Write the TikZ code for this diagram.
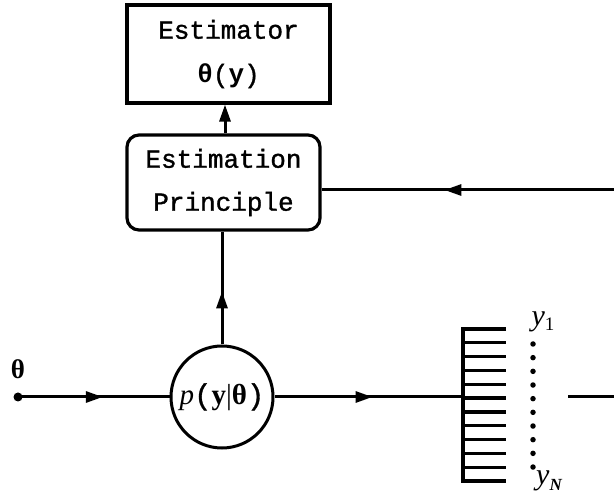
\documentclass[tikz,border=0pt]{standalone}
\usepackage{fontspec}
\setmainfont{Liberation Serif}
\setmonofont{Liberation Mono}[UprightFeatures={FakeBold=1.2}]
\usetikzlibrary{arrows.meta,decorations.markings}

\begin{document}
\begin{tikzpicture}[x=1pt,y=-1pt,
  wire/.style={line width=3pt},
  tip/.style={-{Triangle[length=17pt,width=11pt]}},
  midarrow/.style={postaction={decorate},decoration={markings,
     mark=at position #1 with {\arrow{Triangle[length=17pt,width=11pt]}}}},
  block/.style={draw,line width=3.2pt,align=center,inner sep=0pt,
     font=\fontsize{26}{31}\ttfamily},
  dotpt/.style={circle,fill,inner sep=0pt,minimum size=5.5pt},
  sublab/.style={font=\fontsize{30}{34}\selectfont\itshape}
]
\useasboundingbox (0,0) rectangle (614,497);

% processing blocks
\node[block,minimum width=203pt,minimum height=98pt] (est) at (228.5,54)
  {Estimator\\[13pt]{\bfseries θ}(\textbf{y})};
\node[block,rounded corners=12pt,minimum width=193pt,minimum height=95pt] (princ) at (223.5,182.5)
  {Estimation\\[12pt]Principle};
\node[draw,circle,line width=3pt,minimum size=102pt,inner sep=0pt,
      font=\fontsize{29}{32}\selectfont] (model) at (222,397)
  {\textit{p}\texttt{(}\textbf{y}|\textbf{θ}\texttt{)}};

% parameter input
\coordinate (src) at (18,397);
\node[dotpt,minimum size=9pt] (srcdot) at (src) {};
\node[font=\fontsize{27}{30}\selectfont\bfseries] (thlab) at (18,369) {θ};

% sensor comb with outputs y_1 ... y_N
\coordinate (comb) at (463,397);
\draw[line width=3.2pt] (506,329) -- (463,329) -- (463,481) -- (506,481);
\foreach \k in {1,...,10}
  \draw[line width=3.2pt] (463,329+13.82*\k) -- (506,329+13.82*\k);
\foreach \k in {0,...,9}
  \node[dotpt] (d\k) at (533,344+13.67*\k) {};
\node[sublab] (y1) at (543,322)
  {y\raisebox{-5pt}{\upshape\fontsize{19}{20}\selectfont 1}};
\node[sublab] (yN) at (549,481)
  {y\raisebox{-6pt}{\bfseries\fontsize{17}{20}\selectfont N}};

% outgoing and feedback wires
\coordinate (outa) at (568,397);
\coordinate (outb) at (614,397);
\coordinate (fb) at (614,190);

% connectors
\draw[wire,midarrow=0.56] (src) -- (model.west);
\draw[wire,midarrow=0.52] (model.east) -- (comb);
\draw[wire,midarrow=0.47] (model.north) -- (model.north |- princ.south);
\draw[wire,tip] (princ.north -| 225,0) -- (est.south -| 225,0);
\draw[wire,midarrow=0.58] (fb) -- (fb -| princ.east);
\draw[wire] (outa) -- (outb);
\end{tikzpicture}
\end{document}
